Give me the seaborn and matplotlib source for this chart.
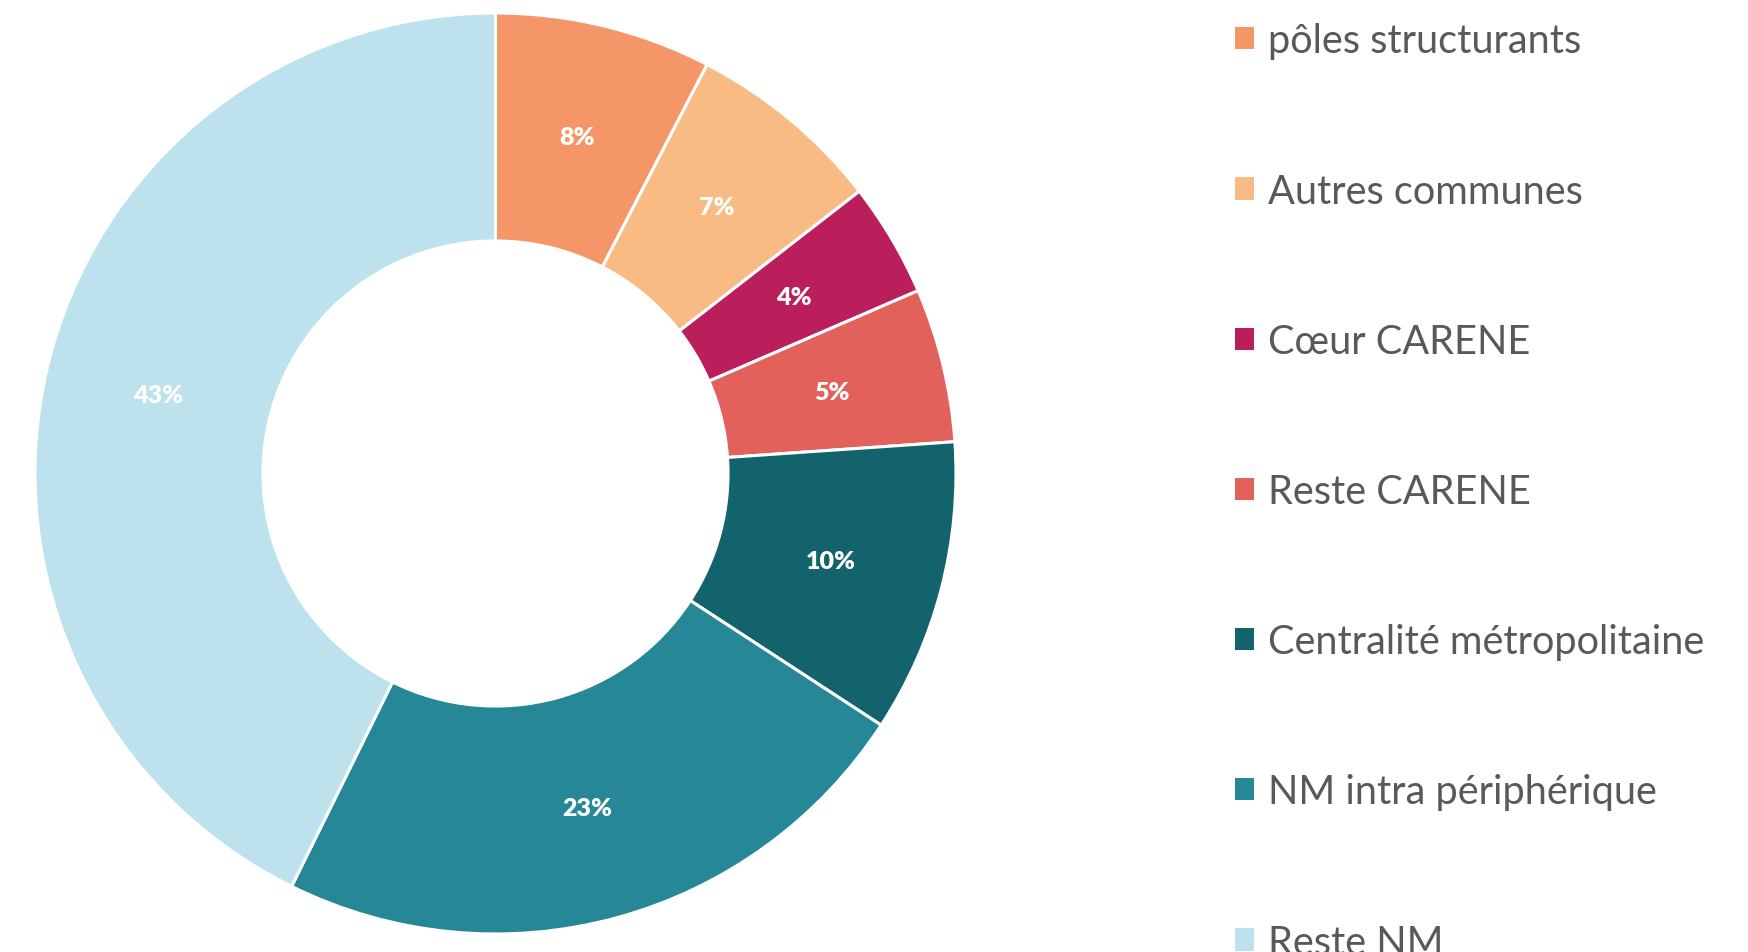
import matplotlib.pyplot as plt
import matplotlib as mpl
import numpy as np
import seaborn as sns

categories = ["pôles structurants", "Autres communes", "Cœur CARENE", "Reste CARENE",
              "Centralité métropolitaine", "NM intra périphérique", "Reste NM"]
shares = [7.6, 6.9, 4.0, 5.4, 10.3, 23.1, 42.7]
colors = ["#F49668", "#F9BB84", "#BA1F5B", "#E2615B", "#13636D", "#268796", "#BDE2EE"]

sns.set_theme(style="white")
plt.rcParams['font.family'] = ['Lato', 'DejaVu Sans']

fig = plt.figure(figsize=(17.49, 9.53), dpi=100)
ax = fig.add_axes([0.0200, 0.0189, 0.5266, 0.9664])

wedges, texts, autotexts = ax.pie(
    shares, colors=colors, startangle=90, counterclock=False, radius=1,
    autopct=lambda p: f"{p:.0f}%", pctdistance=0.752,
    wedgeprops=dict(width=0.495, edgecolor="white", linewidth=2.2),
    textprops=dict(color="white", fontsize=18, fontweight="heavy"))
ax.set_xlim(-1, 1)
ax.set_ylim(-1, 1)
ax.set_aspect("equal")
ax.axis("off")

handles = [mpl.patches.Patch(facecolor=c, edgecolor="none") for c in colors]
leg = fig.legend(handles, categories, loc="upper left", bbox_to_anchor=(0.6857, 1.013),
                 frameon=False, fontsize=28.6, labelcolor="#595959",
                 handlelength=0.48, handleheight=0.48, handletextpad=0.35,
                 labelspacing=2.85)

fig.savefig("out.png", dpi=100)
